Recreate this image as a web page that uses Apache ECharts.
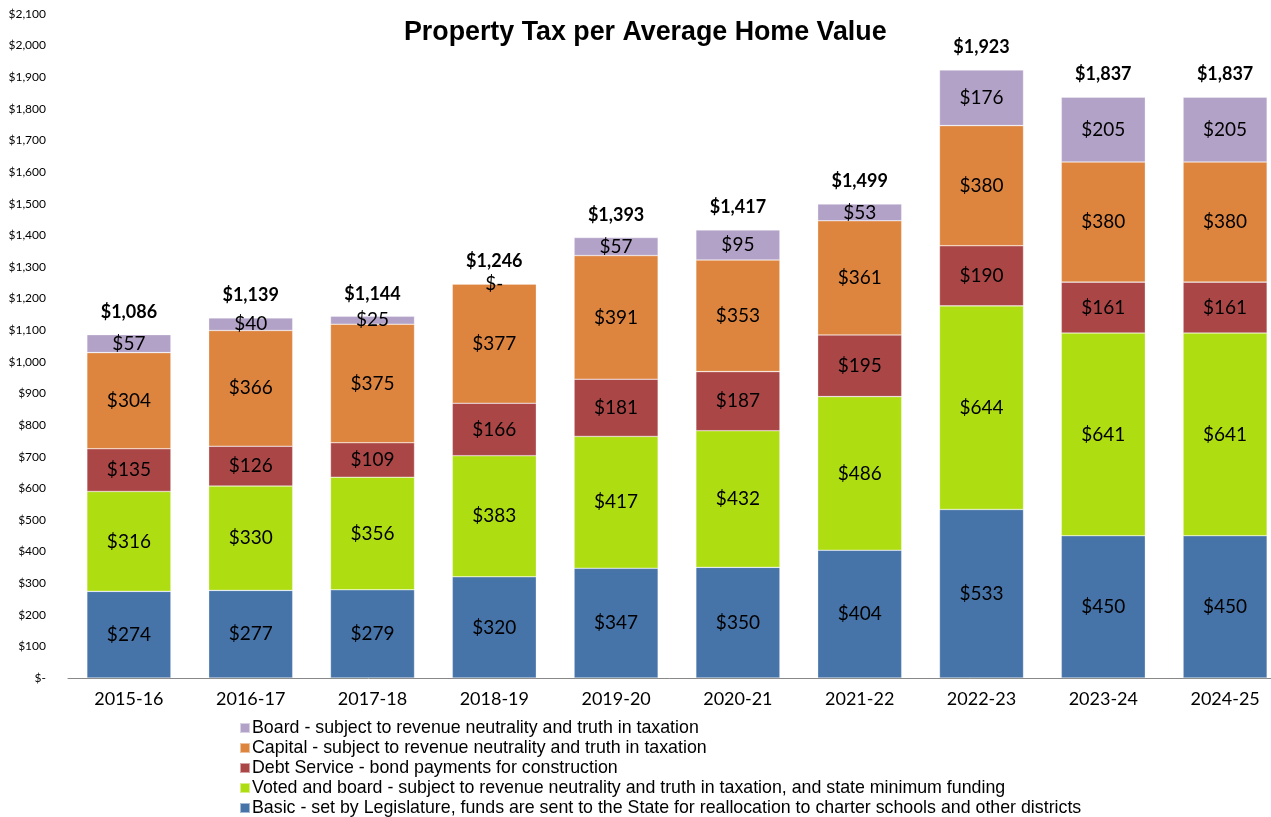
<!DOCTYPE html>
<html>
<head>
<meta charset="utf-8">
<script src="https://cdn.jsdelivr.net/npm/echarts@6/dist/echarts.min.js"></script>
<style>
  html, body { margin: 0; padding: 0; background: #fff; }
  #main { width: 1271px; height: 817px; }
</style>
</head>
<body>
<div id="main"></div>
<script>
// school years
var years = ['2015-16', '2016-17', '2017-18', '2018-19', '2019-20', '2020-21', '2021-22', '2022-23', '2023-24', '2024-25'];

// tax per average home, by part
var basic = [274, 277, 279, 320, 347, 350, 404, 533, 450, 450];
var voted = [316, 330, 356, 383, 417, 432, 486, 644, 641, 641];
var debt = [135, 126, 109, 166, 181, 187, 195, 190, 161, 161];
var capital = [304, 366, 375, 377, 391, 353, 361, 380, 380, 380];
var board = [57, 40, 25, 0, 57, 95, 53, 176, 205, 205];
var totals = [1086, 1139, 1144, 1246, 1393, 1417, 1499, 1923, 1837, 1837];

var names = [
    'Basic - set by Legislature, funds are sent to the State for reallocation to charter schools and other districts',
    'Voted and board - subject to revenue neutrality and truth in taxation, and state minimum funding',
    'Debt Service - bond payments for construction',
    'Capital - subject to revenue neutrality and truth in taxation',
    'Board - subject to revenue neutrality and truth in taxation'
];
var colors = ['#4673a8', '#aedd12', '#aa4646', '#dd843f', '#b3a2c8'];

function money(v) {
    if (v === 0) return '$-';
    return '$' + v.toLocaleString('en-US');
}

let myChart = echarts.init(document.getElementById('main'));

let parts = [basic, voted, debt, capital, board];
let series = [];
for (let i = 0; i < parts.length; i++) {
    series.push({
        name: names[i],
        type: 'bar',
        stack: 'tax',
        barWidth: '69%',
        data: parts[i],
        itemStyle: {
            color: colors[i],
            borderColor: 'rgba(255,255,255,0.5)',
            borderWidth: 0.6
        },
        label: {
            show: true,
            position: 'inside',
            color: '#000',
            fontFamily: 'Lato',
            fontSize: 19,
            formatter: function (p) { return money(p.value); }
        }
    });
}
// totals above each bar (invisible points, label only)
series.push({
    name: 'Total',
    type: 'scatter',
    data: totals,
    symbol: 'circle',
    symbolSize: 1,
    itemStyle: { color: 'rgba(0,0,0,0)', opacity: 1 },
    label: {
        show: true,
        position: 'top',
        distance: 13,
        color: '#000',
        fontFamily: 'Lato',
        fontWeight: 'bold',
        fontSize: 18,
        formatter: function (p) { return money(p.value); }
    },
    silent: true
});

option = {
    animation: false,
    title: {
        text: 'Property Tax per Average Home Value',
        left: 404,
        top: 19,
        padding: 0,
        textStyle: {
            fontFamily: 'Liberation Sans',
            fontWeight: 'bold',
            fontSize: 26.8,
            color: '#000'
        }
    },
    legend: {
        orient: 'vertical',
        left: 239,
        top: 719,
        width: 1000,
        height: 140,
        padding: 0,
        itemWidth: 10,
        itemHeight: 10,
        itemGap: 2,
        icon: 'rect',
        data: [names[4], names[3], names[2], names[1], names[0]],
        textStyle: {
            fontFamily: 'Liberation Sans',
            fontSize: 17.8,
            lineHeight: 16,
            color: '#000',
            padding: [0, 0, 0, -3]
        }
    },
    grid: {
        left: 68,
        top: 14,
        width: 1218,
        height: 664,
        outerBoundsMode: 'none'
    },
    xAxis: {
        type: 'category',
        data: years,
        axisLine: { lineStyle: { color: '#888', width: 1 } },
        axisTick: { show: false },
        axisLabel: {
            color: '#000',
            fontFamily: 'Lato',
            fontSize: 18,
            margin: 12
        }
    },
    yAxis: {
        type: 'value',
        min: 0,
        max: 2100,
        interval: 100,
        splitLine: { show: false },
        axisLine: { show: false },
        axisTick: { show: false },
        axisLabel: {
            color: '#000',
            fontFamily: 'Lato',
            fontSize: 12,
            margin: 22,
            formatter: function (v) { return money(v); }
        }
    },
    series: series
};

myChart.setOption(option);
</script>
</body>
</html>
